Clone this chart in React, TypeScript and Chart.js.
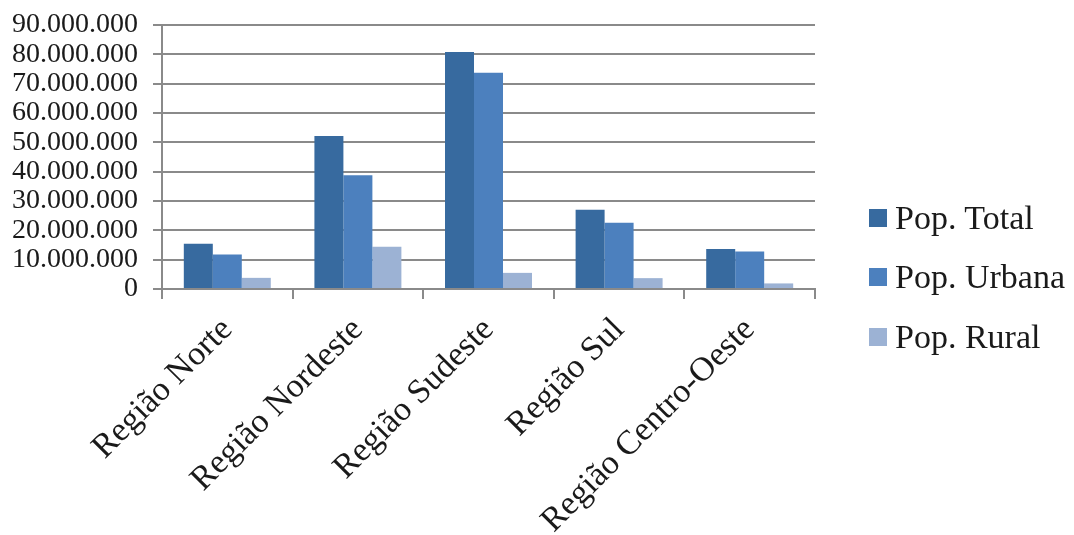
import { useEffect, useRef } from "react";
import { Chart, registerables } from "chart.js";

Chart.register(...registerables);

// Population by Brazilian region
const regions = [
  "Região Norte",
  "Região Nordeste",
  "Região Sudeste",
  "Região Sul",
  "Região Centro-Oeste",
];
const popTotal = [15400000, 52200000, 80800000, 27000000, 13600000];
const popUrbana = [11800000, 38800000, 73700000, 22600000, 12800000];
const popRural = [3800000, 14400000, 5500000, 3700000, 1900000];

const seriesNames = ["Pop. Total", "Pop. Urbana", "Pop. Rural"];
const seriesValues = [popTotal, popUrbana, popRural];
const seriesColors = ["#376a9f", "#4c80be", "#9cb2d4"];

const yMin = 0;
const yMax = 90000000;
const yStep = 10000000;

const FONT = "'Liberation Serif', 'Times New Roman', serif";
const TEXT = "#1a1a1a";
const GRID = "#8a8a8a";

function formatThousands(v: number): string {
  return String(Math.round(v)).replace(/\B(?=(\d{3})+(?!\d))/g, ".");
}

export default function App() {
  const canvasRef = useRef<HTMLCanvasElement | null>(null);

  useEffect(() => {
    if (!canvasRef.current) return;
    const chart = new Chart(canvasRef.current, {
      type: "bar",
      data: {
        labels: regions,
        datasets: seriesNames.map((name, i) => ({
          label: name,
          data: seriesValues[i],
          backgroundColor: seriesColors[i],
          borderWidth: 0,
          barPercentage: 1,
          categoryPercentage: 0.666,
        })),
      },
      options: {
        responsive: false,
        animation: false,
        layout: { padding: { left: 11, right: 259, top: 25, bottom: 0 } },
        plugins: {
          legend: { display: false },
          tooltip: { enabled: false },
        },
        scales: {
          x: {
            grid: {
              display: true,
              drawOnChartArea: false,
              drawTicks: true,
              tickLength: 10,
              color: GRID,
              lineWidth: 2,
              offset: true,
            },
            border: { display: true, color: GRID, width: 2 },
            ticks: {
              minRotation: 45,
              maxRotation: 45,
              autoSkip: false,
              padding: 11,
              color: TEXT,
              font: { family: FONT, size: 34 },
            },
            afterFit: (scale: any) => {
              scale.height = 246;
            },
          },
          y: {
            min: yMin,
            max: yMax,
            grid: { color: GRID, lineWidth: 2, tickLength: 9 },
            border: { display: true, color: GRID, width: 2 },
            ticks: {
              stepSize: yStep,
              autoSkip: false,
              padding: 15,
              color: TEXT,
              font: { family: FONT, size: 28 },
              callback: (v: any) => formatThousands(Number(v)),
            },
            afterFit: (scale: any) => {
              scale.width = 151;
              scale.paddingTop = 0;
              scale.paddingBottom = 0;
            },
          },
        },
      },
    });
    return () => chart.destroy();
  }, []);

  return (
    <div
      style={{
        position: "absolute",
        left: 0,
        top: 0,
        width: 1074,
        height: 535,
        background: "#ffffff",
        overflow: "hidden",
      }}
    >
      <canvas ref={canvasRef} width={1074} height={535} />
      <div
        style={{
          position: "absolute",
          left: 869,
          top: 188,
          display: "flex",
          flexDirection: "column",
        }}
      >
        {seriesNames.map((name, i) => (
          <div
            key={name}
            style={{
              height: 59.5,
              display: "flex",
              alignItems: "center",
              whiteSpace: "nowrap",
            }}
          >
            <span
              style={{
                display: "inline-block",
                width: 18,
                height: 18,
                background: seriesColors[i],
                marginRight: 8,
              }}
            />
            <span style={{ fontFamily: FONT, fontSize: 34, color: TEXT }}>{name}</span>
          </div>
        ))}
      </div>
    </div>
  );
}
